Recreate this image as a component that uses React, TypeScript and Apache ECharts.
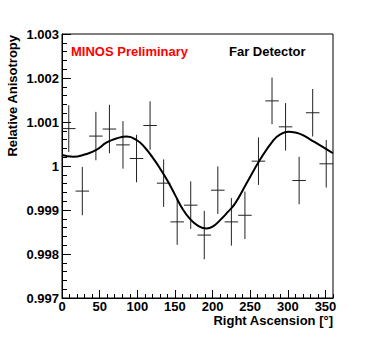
import React, { useEffect, useRef } from "react";
import * as echarts from "echarts";

// Bin centres (degrees of right ascension)
const raCenters = [9, 27, 45, 63, 81, 99, 117, 135, 153, 171, 189, 207, 225, 243, 261, 279, 297, 315, 333, 351];
// Measured relative anisotropy per bin
const anisotropy = [1.00085, 0.99943, 1.00068, 1.00084, 1.00048, 1.00017, 1.00092, 0.99961, 0.99873, 0.99911, 0.99843, 0.99945, 0.99873, 0.99888, 1.00011, 1.00148, 1.00089, 0.99967, 1.00121, 1.00005];
// Vertical error (+/-)
const errors = [0.00053, 0.00055, 0.00055, 0.00055, 0.00054, 0.00054, 0.00055, 0.00054, 0.00052, 0.00054, 0.00055, 0.00054, 0.00054, 0.00054, 0.00054, 0.00053, 0.00054, 0.00054, 0.00054, 0.00054];
const binHalfWidth = 9;

// Fit curve
const fitRA = [0, 15, 30, 45, 60, 75, 86, 100, 110, 120, 130, 140, 150, 160, 170, 180, 192, 200, 210, 220, 230, 245, 263, 281, 290, 301, 310, 320, 330, 343, 360];
const fitValue = [1.00025, 1.00021, 1.00026, 1.00036, 1.00054, 1.00064, 1.00067, 1.00058, 1.00042, 1.0002, 0.99995, 0.99967, 0.99935, 0.99903, 0.9988, 0.99865, 0.99858, 0.99862, 0.99877, 0.99895, 0.99915, 0.9996, 1.00014, 1.00059, 1.00072, 1.00078, 1.00076, 1.0007, 1.0006, 1.00047, 1.00029];

const xTitle = "Right Ascension [°]";
const yTitle = "Relative Anisotropy";
const label1 = "MINOS Preliminary";
const label2 = "Far Detector";

const FONT = "'Liberation Sans', Arial, Helvetica, sans-serif";

export default function App() {
  const ref = useRef<HTMLDivElement>(null);
  useEffect(() => {
    if (!ref.current) return;
    document.body.style.margin = "0";
    const chart = echarts.init(ref.current, null, { renderer: "svg" });
    const pointData = raCenters.map((x, i) => [x, anisotropy[i], errors[i]]);
    const fitData = fitRA.map((x, i) => [x, fitValue[i]]);
    const grid = { left: 62, top: 34, width: 271, height: 264 };
    chart.setOption({
      animation: false,
      backgroundColor: "#fff",
      grid: { ...grid, show: true, borderColor: "#000", borderWidth: 1, backgroundColor: "transparent", containLabel: false },
      xAxis: [
        {
          type: "value",
          min: 0,
          max: 360,
          interval: 50,
          axisLine: { show: true, lineStyle: { color: "#000", width: 1 } },
          axisTick: { show: true, inside: true, length: 8, lineStyle: { color: "#000" } },
          axisLabel: {
            showMaxLabel: false,
            color: "#000",
            fontFamily: FONT,
            fontWeight: "bold",
            fontSize: 13,
            lineHeight: 13,
            margin: 2,
          },
          splitLine: { show: false },
        },
        {
          type: "value",
          min: 0,
          max: 360,
          interval: 10,
          position: "bottom",
          axisLine: { show: false },
          axisTick: { show: true, inside: true, length: 4, lineStyle: { color: "#000" } },
          axisLabel: { show: false },
          splitLine: { show: false },
        },
      ],
      yAxis: {
        type: "value",
        min: 0.997,
        max: 1.003,
        interval: 0.001,
        axisLine: { show: true, lineStyle: { color: "#000", width: 1 } },
        axisTick: { show: true, inside: true, length: 9, lineStyle: { color: "#000" } },
        minorTick: { show: true, splitNumber: 5, length: 5, lineStyle: { color: "#000" } },
        axisLabel: {
          color: "#000",
          fontFamily: FONT,
          fontWeight: "bold",
          fontSize: 13,
          margin: 3,
          formatter: (v: number) => String(parseFloat(v.toFixed(3))),
        },
        splitLine: { show: false },
        minorSplitLine: { show: false },
      },
      series: [
        {
          type: "custom",
          xAxisIndex: 0,
          data: pointData,
          renderItem: (params: any, api: any) => {
            const x = api.value(0);
            const y = api.value(1);
            const e = api.value(2);
            const c = api.coord([x, y]);
            const top = api.coord([x, y + e]);
            const bot = api.coord([x, y - e]);
            const l = api.coord([x - binHalfWidth, y]);
            const r = api.coord([x + binHalfWidth, y]);
            const style = { stroke: "#222", lineWidth: 1 };
            return {
              type: "group",
              children: [
                { type: "line", shape: { x1: c[0], y1: top[1], x2: c[0], y2: bot[1] }, style },
                { type: "line", shape: { x1: l[0], y1: c[1], x2: r[0], y2: c[1] }, style },
              ],
            };
          },
          z: 2,
        },
        {
          type: "line",
          xAxisIndex: 0,
          data: fitData,
          smooth: true,
          showSymbol: false,
          symbol: "none",
          lineStyle: { color: "#000", width: 2 },
          z: 3,
        },
      ],
      graphic: [
        {
          type: "text",
          left: 71,
          top: 45,
          style: { text: label1, fill: "#ff0000", font: `bold 13px ${FONT}` },
        },
        {
          type: "text",
          left: 229,
          top: 45,
          style: { text: label2, fill: "#000", font: `bold 13px ${FONT}` },
        },
        {
          type: "text",
          x: 333,
          y: 314,
          style: { text: xTitle, fill: "#000", font: `bold 13px ${FONT}`, lineHeight: 13, align: "right", verticalAlign: "top" },
        },
        {
          type: "text",
          x: 12,
          y: 35,
          rotation: Math.PI / 2,
          style: { text: yTitle, fill: "#000", font: `bold 13px ${FONT}`, align: "right", verticalAlign: "middle" },
        },
      ],
    });
    return () => chart.dispose();
  }, []);
  return <div ref={ref} style={{ position: "fixed", left: 0, top: 0, width: 371, height: 352 }} />;
}
